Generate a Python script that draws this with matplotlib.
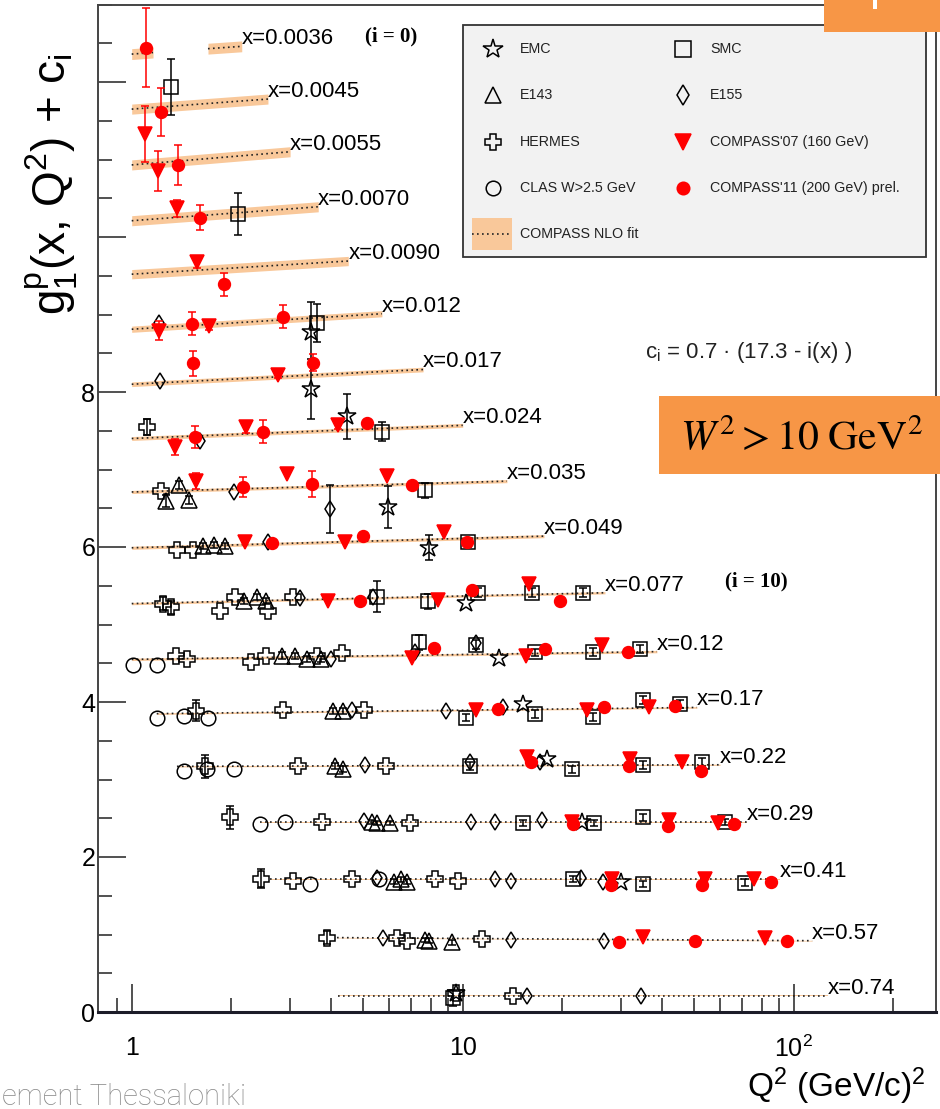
#!/usr/bin/env python3
"""
g1^p(x, Q^2) + c_i world data versus Q^2, with the COMPASS NLO fit bands.
"""

import numpy as np
import matplotlib

matplotlib.use("Agg")
import matplotlib.pyplot as plt
from matplotlib.patches import Rectangle


W, H = 940, 1109

# ---- data: Q^2 (GeV/c)^2, g1 + c_i as drawn, stat. error ----
EMC_Q2 = [3.47, 3.47, 4.47, 5.96, 7.91, 10.2, 12.9, 15.2, 18.0, 22.9, 30.0, 9.54]
EMC_Y = [8.77, 8.04, 7.69, 6.52, 5.99, 5.28, 4.57, 3.97, 3.26, 2.45, 1.68, 0.24]
EMC_ERR = [0.39, 0.39, 0.29, 0.27, 0.16, 0, 0, 0, 0, 0, 0, 0]

SMC_Q2 = [1.315, 2.09, 3.63, 5.70, 7.69, 10.4, 5.51, 7.86, 11.1, 16.2, 23.1,
          7.37, 11.0, 16.5, 24.8, 34.4, 10.2, 16.5, 24.8, 35.1, 45.3,
          10.5, 21.4, 35.1, 52.8, 15.2, 25.0, 35.1, 62.1, 21.6, 35.1, 71.2, 9.34]
SMC_Y = [11.94, 10.30, 8.89, 7.49, 6.73, 6.06, 5.36, 5.30, 5.41, 5.41, 5.41,
         4.77, 4.74, 4.64, 4.65, 4.68, 3.80, 3.85, 3.81, 4.03, 3.97,
         3.17, 3.13, 3.19, 3.23, 2.44, 2.44, 2.51, 2.45, 1.72, 1.65, 1.67, 0.18]
SMC_ERR = [0.36, 0.27, 0.25, 0.12, 0.10, 0.06, 0.20, 0.10, 0.06, 0.06, 0.06,
           0.10, 0.06, 0.05, 0.05, 0.05, 0.05, 0.05, 0.05, 0.05, 0.05,
           0.05, 0.05, 0.05, 0.05, 0.04, 0.04, 0.04, 0.04, 0.04, 0.04, 0.04, 0.10]

E143_Q2 = [1.27, 1.39, 1.49, 1.64, 1.77, 1.92, 2.19, 2.39, 2.55, 2.84, 3.12, 3.38, 3.74,
           4.05, 4.35, 4.12, 4.35, 5.32, 5.51, 6.04, 6.20, 6.51, 6.77, 7.69, 7.91, 9.26]
E143_Y = [6.59, 6.80, 6.61, 6.01, 6.03, 6.01, 5.30, 5.35, 5.30, 4.60, 4.59, 4.55, 4.55,
          3.88, 3.88, 3.17, 3.14, 2.45, 2.44, 2.44, 1.68, 1.71, 1.68, 0.93, 0.92, 0.90]
E143_ERR = [0.08, 0.05, 0.05, 0.04, 0.04, 0.04, 0.04, 0.04, 0.04, 0.04, 0.04, 0.04, 0.04,
            0.04, 0.04, 0.04, 0.04, 0.03, 0.03, 0.03, 0.03, 0.03, 0.03, 0.03, 0.03, 0.03]

E155_Q2 = [1.21, 1.22, 1.61, 2.04, 3.97, 2.58, 3.23, 5.35, 4.0, 7.2, 11.0, 4.63, 8.9, 13.2,
           5.07, 10.5, 17.1, 5.03, 10.6, 12.5, 17.3, 5.51, 12.5, 14.0, 22.8, 26.5,
           5.74, 14.0, 26.7, 15.6, 34.6]
E155_Y = [8.89, 8.14, 7.37, 6.71, 6.49, 6.06, 5.34, 5.36, 4.55, 4.64, 4.76, 3.90, 3.88, 3.94,
          3.19, 3.23, 3.23, 2.47, 2.45, 2.45, 2.48, 1.73, 1.71, 1.69, 1.73, 1.68,
          0.96, 0.93, 0.92, 0.21, 0.21]
E155_ERR = [0, 0, 0, 0, 0.31] + [0] * 26

HERMES_Q2 = [1.11, 1.23, 1.37, 1.53, 1.24, 1.31, 1.85, 2.05, 2.58, 3.07,
             1.36, 1.47, 2.29, 2.55, 3.63, 4.32, 1.56, 2.86, 5.03, 1.67, 3.18, 5.87,
             1.98, 3.76, 6.93, 2.46, 3.07, 4.63, 8.25, 9.66, 3.89, 6.33, 6.77, 11.4, 9.54, 14.2]
HERMES_Y = [7.55, 6.72, 5.96, 5.96, 5.27, 5.22, 5.18, 5.35, 5.17, 5.35,
            4.60, 4.55, 4.51, 4.59, 4.59, 4.63, 3.89, 3.90, 3.90, 3.17, 3.17, 3.17,
            2.51, 2.45, 2.44, 1.72, 1.69, 1.71, 1.71, 1.69, 0.96, 0.96, 0.92, 0.94, 0.24, 0.21]
HERMES_ERR = [0.10, 0, 0, 0, 0.08, 0.08, 0, 0, 0, 0,
              0, 0, 0, 0, 0, 0, 0.14, 0, 0, 0.15, 0, 0,
              0.15, 0, 0, 0.12, 0, 0, 0, 0, 0.08, 0, 0, 0, 0, 0]

CLAS_Q2 = [1.01, 1.19, 1.19, 1.44, 1.70, 1.44, 1.69, 2.04, 2.44, 2.90, 3.46, 5.59]
CLAS_Y = [4.48, 4.48, 3.80, 3.82, 3.80, 3.11, 3.13, 3.13, 2.42, 2.45, 1.65, 1.71]
CLAS_ERR = [0] * 12

C07_Q2 = [1.097, 1.20, 1.37, 1.58, 1.21, 1.71, 2.77, 1.35, 2.21, 4.20, 1.56, 2.94, 5.91,
          2.20, 4.41, 8.79, 3.92, 8.42, 15.9, 7.03, 15.5, 26.3, 11.0, 23.7, 36.6,
          15.6, 32.0, 45.9, 21.4, 42.0, 59.2, 28.3, 53.9, 75.9, 35.1, 81.8]
C07_Y = [11.33, 10.85, 10.37, 9.68, 8.79, 8.85, 8.22, 7.29, 7.55, 7.58, 6.85, 6.94, 6.91,
         6.06, 6.06, 6.20, 5.30, 5.32, 5.52, 4.57, 4.59, 4.74, 3.90, 3.90, 3.94,
         3.29, 3.27, 3.23, 2.45, 2.48, 2.44, 1.71, 1.71, 1.71, 0.97, 0.96]
C07_ERR = [0.36, 0.26, 0.11, 0.08, 0.12, 0.05, 0.04, 0.10, 0.08, 0.06, 0.10] + [0] * 25

C11_Q2 = [1.105, 1.226, 1.38, 1.61, 1.90, 1.52, 2.86, 1.53, 3.53, 1.55, 2.49, 5.14,
          2.17, 3.51, 7.03, 2.65, 5.00, 10.3, 4.89, 10.7, 19.7, 8.20, 17.7, 31.6,
          12.8, 26.7, 43.8, 16.1, 31.8, 52.4, 21.6, 41.7, 65.9, 28.1, 52.8, 85.6,
          29.7, 50.3, 95.5]
C11_Y = [12.44, 11.61, 10.93, 10.25, 9.39, 8.88, 8.97, 8.37, 8.38, 7.42, 7.49, 7.60,
         6.77, 6.81, 6.80, 6.05, 6.14, 6.06, 5.30, 5.45, 5.30, 4.70, 4.69, 4.65,
         3.91, 3.93, 3.95, 3.22, 3.17, 3.11, 2.42, 2.40, 2.42, 1.64, 1.64, 1.68,
         0.90, 0.92, 0.92]
C11_ERR = [0.51, 0.31, 0.26, 0.16, 0.15, 0.15, 0.15, 0.16, 0.11, 0.14, 0.15, 0,
           0.13, 0.17] + [0] * 25

# ---- COMPASS NLO fit: one straight segment per x bin (bin 0 has a gap) ----
FIT_BIN = [0, 0, 1, 2, 3, 4, 5, 6, 7, 8, 9, 10, 11, 12, 13, 14, 15, 16, 17]
FIT_Q2_LO = [1.0, 1.70, 1.0, 1.0, 1.0, 1.0, 1.0, 1.0, 1.0, 1.0, 1.0, 1.0, 1.0,
             1.19, 1.37, 2.44, 2.62, 4.17, 4.2]
FIT_Q2_HI = [1.16, 2.15, 2.58, 3.01, 3.66, 4.51, 5.70, 7.59, 10.0, 13.6, 17.6, 26.9, 38.6,
             51.0, 59.9, 72.3, 90.9, 113.6, 127.0]
FIT_Y_LO = [12.36, 12.43, 11.65, 10.93, 10.21, 9.52, 8.81, 8.10, 7.40, 6.71, 5.99, 5.27, 4.55,
            3.85, 3.17, 2.45, 1.71, 0.96, 0.21]
FIT_Y_HI = [12.38, 12.46, 11.78, 11.10, 10.39, 9.69, 9.01, 8.29, 7.57, 6.85, 6.14, 5.41, 4.65,
            3.93, 3.19, 2.45, 1.71, 0.92, 0.21]
FIT_HALF = [0.07, 0.07, 0.065, 0.065, 0.065, 0.06, 0.04, 0.03, 0.025, 0.02, 0.02, 0.015, 0.015,
            0.01, 0.008, 0.006, 0.005, 0.005, 0.005]

X_LABELS = ["x=0.0036", "x=0.0045", "x=0.0055", "x=0.0070", "x=0.0090", "x=0.012",
            "x=0.017", "x=0.024", "x=0.035", "x=0.049", "x=0.077", "x=0.12", "x=0.17",
            "x=0.22", "x=0.29", "x=0.41", "x=0.57", "x=0.74"]

BAND = "#f9c89a"
RED = "#ff0000"
ORANGE = "#f79646"

plt.rcParams["font.family"] = ["Liberation Sans", "DejaVu Sans"]
plt.rcParams["mathtext.fontset"] = "custom"
plt.rcParams["mathtext.rm"] = "Liberation Sans"
plt.rcParams["mathtext.it"] = "Liberation Sans:italic"
plt.rcParams["mathtext.bf"] = "Liberation Sans:bold"
plt.rcParams["mathtext.sf"] = "Liberation Sans"


def draw_set(ax, q2, y, err, marker, ms, face, edge, z):
    q2, y, err = np.asarray(q2), np.asarray(y), np.asarray(err)
    has = err > 0
    if has.any():
        ax.errorbar(q2[has], y[has], yerr=err[has], fmt="none", ecolor=edge,
                    elinewidth=1.1, capsize=3, capthick=1.1, zorder=z - 0.5)
    ax.plot(q2, y, ls="none", marker=marker, ms=ms, mfc=face, mec=edge, mew=1.1, zorder=z)


def main() -> None:
    fig = plt.figure(figsize=(W / 100, H / 100), dpi=100)
    ax = fig.add_axes([98 / W, 1 - 1012 / H, 838 / W, 1007.5 / H])

    # fit bands and dotted central lines
    for lo, hi, ylo, yhi, hw in zip(FIT_Q2_LO, FIT_Q2_HI, FIT_Y_LO, FIT_Y_HI, FIT_HALF):
        ax.fill_between([lo, hi], [ylo - hw, yhi - hw], [ylo + hw, yhi + hw],
                        color=BAND, lw=0, zorder=1)
        ax.plot([lo, hi], [ylo, yhi], ls=(0, (1, 2)), color="#222222", lw=1.2, zorder=2)

    for b, label in enumerate(X_LABELS):
        k = max(i for i, fb in enumerate(FIT_BIN) if fb == b)
        ax.annotate(label, (FIT_Q2_HI[k], FIT_Y_HI[k]), xytext=(0, 1.5),
                    textcoords="offset points", ha="left", va="baseline", fontsize=16)

    draw_set(ax, CLAS_Q2, CLAS_Y, CLAS_ERR, "o", 10.5, "none", "black", 4)
    draw_set(ax, HERMES_Q2, HERMES_Y, HERMES_ERR, "P", 12, "none", "black", 4)
    draw_set(ax, E143_Q2, E143_Y, E143_ERR, "^", 11.5, "none", "black", 4)
    draw_set(ax, E155_Q2, E155_Y, E155_ERR, "d", 8.5, "none", "black", 4)
    draw_set(ax, SMC_Q2, SMC_Y, SMC_ERR, "s", 9.5, "none", "black", 4)
    draw_set(ax, EMC_Q2, EMC_Y, EMC_ERR, "*", 13.5, "none", "black", 4)
    draw_set(ax, C07_Q2, C07_Y, C07_ERR, "v", 10, RED, RED, 6)
    draw_set(ax, C11_Q2, C11_Y, C11_ERR, "o", 8.5, RED, RED, 6)

    ax.set_xscale("log")
    ax.set_xlim(0.791, 269)
    ax.set_ylim(0, 13.0)
    ax.set_xticks([1, 10, 100], ["1", "10", r"$10^{2}$"])
    ax.set_xticks([0.9] + list(range(2, 10)) + list(range(20, 100, 10)) + [200], minor=True)
    ax.set_yticks([0, 2, 4, 6, 8, 10, 12], ["0", "2", "4", "6", "8", "", ""])
    ax.set_yticks(np.arange(0, 13.01, 0.5), minor=True)
    ax.tick_params(which="both", direction="in", top=False, right=False,
                   width=1.1, color="#222222", labelsize=18)
    ax.tick_params(which="major", length=20)
    ax.tick_params(which="minor", length=10, labelbottom=False)
    ax.tick_params(axis="x", which="major", pad=17)
    ax.tick_params(axis="y", which="major", pad=2)
    for side in ["top", "right", "left"]:
        ax.spines[side].set_linewidth(1.4)
        ax.spines[side].set_color("#444444")
    ax.spines["bottom"].set_linewidth(2.2)
    ax.spines["bottom"].set_color("#1c1c28")

    # overlay in pixel coordinates for the annotations and the legend
    over = fig.add_axes([0, 0, 1, 1], zorder=5)
    over.set_xlim(0, W)
    over.set_ylim(H, 0)
    over.set_axis_off()
    over.patch.set_alpha(0)

    over.text(52, 184, r"$\mathrm{g}_{1}^{\mathrm{p}}$(x, Q$^{2}$) + c$_{\mathrm{i}}$",
              rotation=90, ha="center", va="center", fontsize=33)
    over.text(925, 1097, r"Q$^{2}$ (GeV/c)$^{2}$", ha="right", va="baseline", fontsize=24)
    over.text(365, 41, "(i = 0)", family="Liberation Serif", weight="bold", fontsize=15,
              va="baseline")
    over.text(725, 586, "(i = 10)", family="Liberation Serif", weight="bold", fontsize=15,
              va="baseline")
    over.text(645, 358, r"c$_{\mathrm{i}}$ = 0.7 · (17.3 - i(x) )", fontsize=16,
              va="baseline", color="#222222")

    # legend
    over.add_patch(Rectangle((463, 25), 463, 232, facecolor="#f2f2f2",
                             edgecolor="#333333", lw=1.3, zorder=1))
    entries = [
        ("EMC", "*", 15, "none", "black", 493, 49),
        ("SMC", "s", 11, "none", "black", 683, 49),
        ("E143", "^", 12, "none", "black", 493, 95),
        ("E155", "d", 10, "none", "black", 683, 95),
        ("HERMES", "P", 12, "none", "black", 493, 142),
        ("COMPASS'07 (160 GeV)", "v", 11, RED, RED, 683, 142),
        ("CLAS W>2.5 GeV", "o", 10.5, "none", "black", 493, 188),
        ("COMPASS'11 (200 GeV) prel.", "o", 9, RED, RED, 683, 188),
    ]
    for label, marker, ms, face, edge, px, py in entries:
        over.plot([px], [py], ls="none", marker=marker, ms=ms, mfc=face, mec=edge,
                  mew=1.1, zorder=3)
        over.text(px + 27, py, label, fontsize=10.3, va="center", color="#222222", zorder=3)
    over.add_patch(Rectangle((472, 218), 40, 32, facecolor=BAND, lw=0, zorder=2))
    over.plot([472, 512], [234, 234], ls=(0, (1, 2)), color="#222222", lw=1.2, zorder=3)
    over.text(520, 234, "COMPASS NLO fit", fontsize=10.3, va="center", color="#222222",
              zorder=3)

    # slide decorations around the plot
    over.add_patch(Rectangle((824, 0), 130, 32, facecolor=ORANGE, lw=0, zorder=4))
    over.add_patch(Rectangle((873, 0), 4, 9, facecolor="white", lw=0, zorder=4))
    over.add_patch(Rectangle((659, 396), 300, 78, facecolor=ORANGE, lw=0, zorder=4))
    over.text(680, 450, r"$W^{2} > 10\ \mathrm{GeV}^{2}$", math_fontfamily="stix",
              fontsize=30, va="baseline", color="black", zorder=5)
    over.text(2, 1105, "ement Thessaloniki", family="Roboto", weight="light",
              fontsize=21, color="#8a8a8a", va="baseline")

    fig.savefig("out.png", dpi=100)
    plt.close(fig)


if __name__ == "__main__":
    main()
